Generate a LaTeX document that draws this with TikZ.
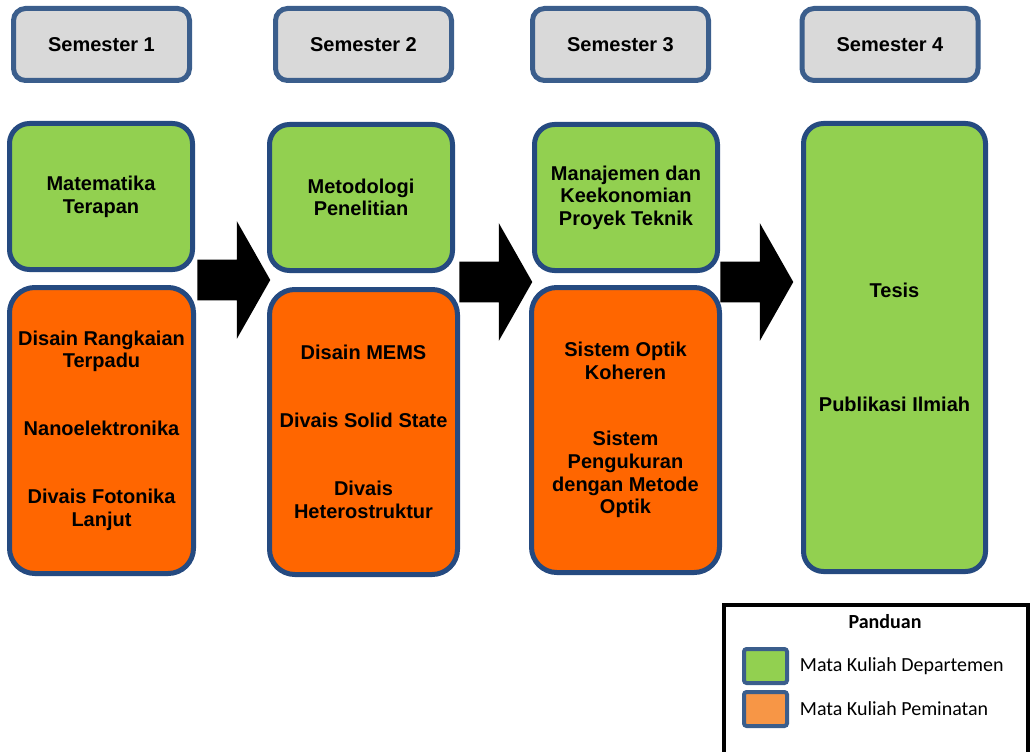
\documentclass[tikz,border=0pt]{standalone}
\usepackage{fontspec}
\setmainfont{Liberation Sans}
\newfontfamily\legendfont{Carlito}
\usepackage{tikz}
\usetikzlibrary{positioning,shapes.arrows}
\definecolor{headgray}{RGB}{217,217,217}
\definecolor{headblue}{RGB}{59,94,140}
\definecolor{boxblue}{RGB}{37,74,128}
\definecolor{deptgreen}{RGB}{146,208,80}
\definecolor{minatorange}{RGB}{255,102,0}
\definecolor{legendorange}{RGB}{247,150,70}
\tikzset{
        x=0.75pt, y=-0.75pt, % one unit is one pixel of the original
        every node/.style={font=\bfseries\fontsize{15}{17}\selectfont, align=center},
        semester/.style={draw=headblue, fill=headgray, line width=3.75pt, rounded corners=9pt,
                minimum width=132pt, minimum height=54pt}, % grey header of each semester
        dept/.style={draw=boxblue, fill=deptgreen, line width=3.75pt, rounded corners=15pt,
                minimum width=137.25pt, minimum height=109.5pt}, % departemen courses
        minat/.style={draw=boxblue, fill=minatorange, line width=3.75pt, rounded corners=19pt,
                minimum width=141pt, minimum height=213.75pt}, % peminatan courses
        nextsem/.style={single arrow, fill=black, anchor=tail, inner xsep=0pt, inner ysep=15pt,
                minimum height=54.75pt, minimum width=87.75pt,
                single arrow head extend=28.9pt, single arrow tip angle=120.8},
        swatch/.style={draw=headblue, line width=3pt, rounded corners=2pt,
                minimum width=32.25pt, minimum height=25.5pt, inner sep=0pt},
        legendtext/.style={font=\legendfont\fontsize{15}{17}\selectfont, inner sep=0pt},
}
\begin{document}
\begin{tikzpicture}
\useasboundingbox (0,0) rectangle (1030,752);
% semester headers
\node[semester] (sem1) at (101.5,44.5) {Semester 1};
\node[semester] (sem2) at (363.5,44.5) {Semester 2};
\node[semester] (sem3) at (620.5,44.5) {Semester 3};
\node[semester] (sem4) at (890,44.5) {Semester 4};
% semester 1
\node[dept] (mat) at (101,196.5) {Matematika\\Terapan};
\node[minat, minimum width=138pt, minimum height=214.5pt] (minat1) at (101.5,430.5)
        {Disain Rangkaian\\Terpadu\\[34pt]Nanoelektronika\\[34pt]Divais Fotonika\\Lanjut};
% semester 2
\node[dept] (metpen) at (361,197.5) {Metodologi\\Penelitian};
\node[minat] (minat2) at (363.5,432) {Disain MEMS\\[34pt]Divais Solid State\\[34pt]Divais\\Heterostruktur};
% semester 3
\node[dept] (manpro) at (626,197.5) {Manajemen dan\\Keekonomian\\Proyek Teknik};
\node[minat] (minat3) at (625.5,430) {Sistem Optik\\Koheren\\[33pt]Sistem\\Pengukuran\\dengan Metode\\Optik};
% semester 4
\node[dept, minimum width=136.5pt, minimum height=336pt] (tesis) at (894.5,347.5) {Tesis\\[68pt]Publikasi Ilmiah};
% arrows between semesters
\node[nextsem] (arr1) at (197,280) {};
\node[nextsem] (arr2) at (459,282) {};
\node[nextsem] (arr3) at (720,282) {};
% legend
\draw[line width=2.5pt] (724,770) -- (724,605) -- (1028,605) -- (1028,770);
\node[font=\legendfont\bfseries\fontsize{15}{17}\selectfont] (panduan) at (885,622) {Panduan};
\node[swatch, fill=deptgreen] (swdept) at (765.5,666) {};
\node[swatch, fill=legendorange] (swminat) at (765.5,709) {};
\node[legendtext, right=8pt of swdept] (lgdept) {Mata Kuliah Departemen};
\node[legendtext, right=8pt of swminat] (lgminat) {Mata Kuliah Peminatan};
\end{tikzpicture}
\end{document}
